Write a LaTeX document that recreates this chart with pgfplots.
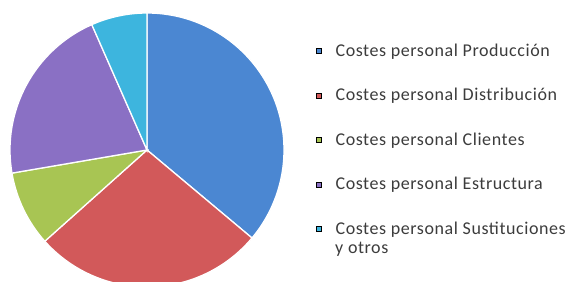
\documentclass[border=0pt]{standalone}
\usepackage{pgfplots}
\usepackage{pgfplotstable}
\usepackage{fontspec}
\setmainfont{Carlito}
\newfontfamily\legfont{Carlito}[LetterSpace=3.2]
\pgfplotsset{compat=1.18}
\definecolor{pblue}{HTML}{4B87D2}
\definecolor{pred}{HTML}{D2595A}
\definecolor{pgreen}{HTML}{A8C553}
\definecolor{ppurple}{HTML}{8A70C4}
\definecolor{pcyan}{HTML}{3DB5DE}
\definecolor{txt}{HTML}{3C3C3C}
\pgfplotstableread{
share
36.1
27.3
8.9
21.1
6.6
}\piedata
\pgfplotstablegetelem{0}{share}\of\piedata\let\sA\pgfplotsretval
\pgfplotstablegetelem{1}{share}\of\piedata\let\sB\pgfplotsretval
\pgfplotstablegetelem{2}{share}\of\piedata\let\sC\pgfplotsretval
\pgfplotstablegetelem{3}{share}\of\piedata\let\sD\pgfplotsretval
\pgfplotstablegetelem{4}{share}\of\piedata\let\sE\pgfplotsretval
\pgfmathsetmacro\aA{90}
\pgfmathsetmacro\aB{\aA-3.6*\sA}
\pgfmathsetmacro\aC{\aB-3.6*\sB}
\pgfmathsetmacro\aD{\aC-3.6*\sC}
\pgfmathsetmacro\aE{\aD-3.6*\sD}
\pgfmathsetmacro\aF{\aE-3.6*\sE}
\begin{document}%
\begin{tikzpicture}
\begin{axis}[
  at={(0,0)}, anchor=south west,
  scale only axis, width=571bp, height=282bp,
  xmin=0, xmax=571, ymin=0, ymax=282,
  hide axis, clip=false,
  legend image code/.code={\fill[#1] (0bp,-2.5bp) rectangle (5bp,2.5bp);},
  legend style={draw=none, fill=none, inner sep=0pt, at={(axis cs:316,239)}, anchor=north west,
    font=\legfont\fontsize{18bp}{21bp}\selectfont, text=txt,
    row sep=29.6bp, column sep=14bp,
    nodes={inner sep=0pt, text height=13bp, text depth=2bp}},
  legend cell align=left,
]
\filldraw[fill=pblue, draw=white, line width=1.3bp] (axis cs:147,132) -- ++(\aA:137bp) arc[start angle=\aA, end angle=\aB, radius=137bp] -- cycle;
\filldraw[fill=pred, draw=white, line width=1.3bp] (axis cs:147,132) -- ++(\aB:137bp) arc[start angle=\aB, end angle=\aC, radius=137bp] -- cycle;
\filldraw[fill=pgreen, draw=white, line width=1.3bp] (axis cs:147,132) -- ++(\aC:137bp) arc[start angle=\aC, end angle=\aD, radius=137bp] -- cycle;
\filldraw[fill=ppurple, draw=white, line width=1.3bp] (axis cs:147,132) -- ++(\aD:137bp) arc[start angle=\aD, end angle=\aE, radius=137bp] -- cycle;
\filldraw[fill=pcyan, draw=white, line width=1.3bp] (axis cs:147,132) -- ++(\aE:137bp) arc[start angle=\aE, end angle=\aF, radius=137bp] -- cycle;
\addlegendimage{fill=pblue}
\addlegendentry{Costes personal Producción}
\addlegendimage{fill=pred}
\addlegendentry{Costes personal Distribución}
\addlegendimage{fill=pgreen}
\addlegendentry{Costes personal Clientes}
\addlegendimage{fill=ppurple}
\addlegendentry{Costes personal Estructura}
\addlegendimage{fill=pcyan}
\addlegendentry{Costes personal Sustituciones}
\node[anchor=base west, inner sep=0pt, text=txt, font=\legfont\fontsize{18bp}{21bp}\selectfont] at (axis cs:335,28.5) {y otros};
\end{axis}
\pgfresetboundingbox
\path (0,0) rectangle (571bp,282bp);
\end{tikzpicture}%
\end{document}
